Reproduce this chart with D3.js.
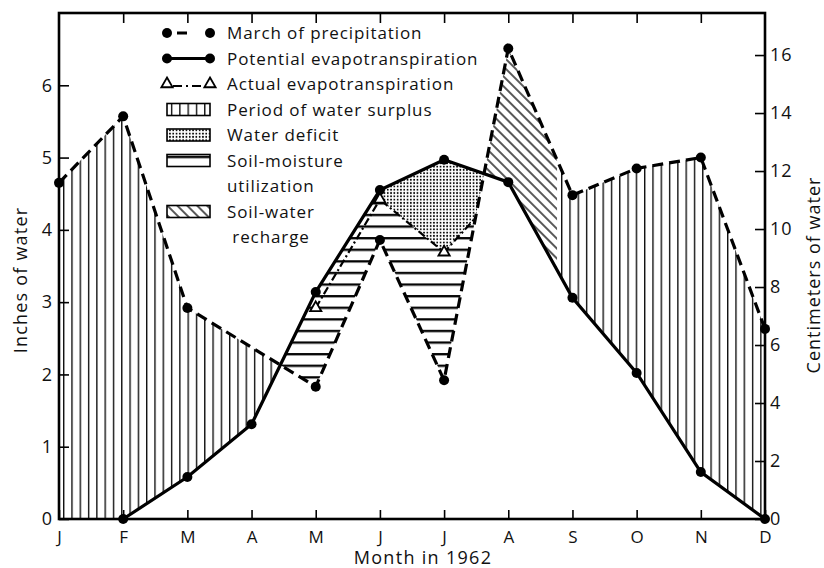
<!DOCTYPE html>
<html><head><meta charset="utf-8">
<script src="https://cdn.jsdelivr.net/npm/d3@7"></script>
<style>
body{margin:0;background:#fff}
svg{display:block}
text{font-family:"Open Sans",sans-serif;fill:#111}
</style>
</head><body>
<svg id="c" width="824" height="568"></svg>
<script>
// ---------- data ----------
const months = ["J","F","M","A","M","J","J","A","S","O","N","D"];
const precipitation = [4.65,5.57,2.92,null,1.83,3.86,1.92,6.51,4.48,4.85,5.0,2.63];
const potentialET  = [null,0,0.58,1.31,3.14,4.55,4.97,4.66,3.06,2.02,0.65,0];
const actualET     = [null,null,null,null,2.92,4.42,3.69,4.66,null,null,null,null];
const rechargeEnd = 7.76;               // month index where soil-water recharge ends
const inchTicks = [0,1,2,3,4,5,6];
const cmTicks = [0,2,4,6,8,10,12,14,16];
const legendLabels = ["March of precipitation","Potential evapotranspiration","Actual evapotranspiration",
  "Period of water surplus","Water deficit","Soil-moisture","utilization","Soil-water"," recharge"];

// ---------- setup ----------
const svg = d3.select("#c");
const defs = svg.append("defs");
const M = {l:59, r:765, t:13, b:519};
const x = d3.scaleLinear().domain([0,11]).range([M.l, M.r]);
const y = d3.scaleLinear().domain([0,7]).range([M.b, M.t]);
const yCm = d3.scaleLinear().domain([0,17.45]).range([M.b, M.t]);

// patterns
const pv = defs.append("pattern").attr("id","pv").attr("patternUnits","userSpaceOnUse")
  .attr("x",63).attr("y",0).attr("width",8.3).attr("height",10);
pv.append("line").attr("x1",0.7).attr("x2",0.7).attr("y1",0).attr("y2",10).attr("stroke","#000").attr("stroke-width",1.3);
const ph = defs.append("pattern").attr("id","ph").attr("patternUnits","userSpaceOnUse")
  .attr("x",0).attr("y",5).attr("width",10).attr("height",11.6);
ph.append("line").attr("x1",0).attr("x2",10).attr("y1",1.2).attr("y2",1.2).attr("stroke","#000").attr("stroke-width",2.3);
const pd = defs.append("pattern").attr("id","pd").attr("patternUnits","userSpaceOnUse")
  .attr("width",7).attr("height",7).attr("patternTransform","rotate(-45)");
pd.append("line").attr("x1",1).attr("x2",1).attr("y1",0).attr("y2",7).attr("stroke","#000").attr("stroke-width",1.3);
const pdot = defs.append("pattern").attr("id","pdot").attr("patternUnits","userSpaceOnUse")
  .attr("width",3.3).attr("height",3.3);
pdot.append("circle").attr("cx",1.65).attr("cy",1.65).attr("r",0.95).attr("fill","#000");

// ---------- helpers (data space) ----------
const pts = s => s.map((v,i)=> v==null?null:[i,v]).filter(Boolean);
const P = pts(precipitation), PE = pts(potentialET), AE = pts(actualET);
function at(p, t){
  if (t <= p[0][0]) return t < p[0][0] ? 0 : p[0][1];
  for (let i=1;i<p.length;i++){
    if (t <= p[i][0]){
      const a=p[i-1], b=p[i]; return a[1] + (b[1]-a[1])*(t-a[0])/(b[0]-a[0]);
    }
  }
  return p[p.length-1][1];
}
function seg(p, t0, t1){
  const out=[[t0, at(p,t0)]];
  p.forEach(d=>{ if (d[0]>t0 && d[0]<t1) out.push(d); });
  out.push([t1, at(p,t1)]);
  return out;
}
function cross(a, b, lo, hi){
  const xs = Array.from(new Set([lo,hi,...a.map(d=>d[0]),...b.map(d=>d[0])])).filter(t=>t>=lo&&t<=hi).sort((u,v)=>u-v);
  for (let i=1;i<xs.length;i++){
    const f0 = at(a,xs[i-1])-at(b,xs[i-1]), f1 = at(a,xs[i])-at(b,xs[i]);
    if (f0===0) return xs[i-1];
    if (f0*f1<0) return xs[i-1] + (xs[i]-xs[i-1])*f0/(f0-f1);
  }
  return hi;
}
const c1 = cross(P, PE, 2, 4.5);   // precip falls below PE (spring)
const c2 = cross(AE, P, 6, 7);     // actual ET rejoins precipitation
const c3 = cross(P, PE, 6, 7);     // precip rises above PE (summer)

const line = d3.line().x(d=>x(d[0])).y(d=>y(d[1]));
const poly = (pp, fill) => svg.append("path").attr("d", line(pp)+"Z").attr("fill", fill).attr("stroke","none");

// regions
poly([...seg(P,0,c1), ...seg(PE,0,c1).reverse()], "url(#pv)");
poly([...seg(P,rechargeEnd,11), ...seg(PE,rechargeEnd,11).reverse()], "url(#pv)");
poly([...seg(P,c3,rechargeEnd), ...seg(PE,c3,rechargeEnd).reverse()], "url(#pd)");
poly([...seg(PE,5,c3), [c2, at(P,c2)], ...seg(AE,5,6).reverse()], "url(#pdot)");
poly([...seg(PE,c1,5), ...seg(AE,5,c2), ...seg(P,c1,c2).reverse()], "url(#ph)");

// lines
svg.append("path").attr("d", line(seg(AE,4,c2))).attr("fill","none").attr("stroke","#000")
  .attr("stroke-width",2.2).attr("stroke-dasharray","8,3,2,3");
svg.append("path").attr("d", line(P)).attr("fill","none").attr("stroke","#000")
  .attr("stroke-width",3.2).attr("stroke-dasharray","11,6");
svg.append("path").attr("d", line(PE)).attr("fill","none").attr("stroke","#000").attr("stroke-width",3.2);

// markers
const tri = d3.symbol().type(d3.symbolTriangle).size(55);
svg.selectAll(".tri").data(AE.filter(d=>at(PE,d[0])!==d[1])).join("path")
  .attr("transform", d=>`translate(${x(d[0])},${y(d[1])})`).attr("d", tri())
  .attr("fill","#fff").attr("stroke","#000").attr("stroke-width",1.8);
svg.selectAll(".dp").data([...P, ...PE]).join("circle")
  .attr("cx", d=>x(d[0])).attr("cy", d=>y(d[1])).attr("r",5).attr("fill","#000");

// ---------- axes ----------
const ax = svg.append("g");
const styleAxis = g => { g.select(".domain").remove(); g.selectAll("line").attr("stroke","#000").attr("stroke-width",1.6); g.selectAll("text").attr("fill","#111").attr("font-family",'"Open Sans",sans-serif'); };
ax.append("g").attr("transform",`translate(${M.l},0)`)
  .call(d3.axisLeft(y).tickValues(inchTicks).tickSize(-10).tickPadding(7).tickFormat(d3.format("d")))
  .attr("font-size",18).call(styleAxis);
ax.append("g").attr("transform",`translate(${M.r},0)`)
  .call(d3.axisRight(yCm).tickValues(cmTicks).tickSize(-10).tickPadding(5).tickFormat(d3.format("d")))
  .attr("font-size",18).attr("letter-spacing",1).call(styleAxis);
ax.append("g").attr("transform",`translate(0,${M.b})`)
  .call(d3.axisBottom(x).tickValues(d3.range(months.length)).tickSize(-9).tickPadding(12).tickFormat(i=>months[i]))
  .attr("font-size",17).call(styleAxis);
ax.append("g").attr("transform",`translate(0,${M.t})`)
  .call(d3.axisTop(x).tickValues(d3.range(1,months.length-1)).tickSize(-10).tickFormat(""))
  .call(styleAxis);
// frame
svg.append("rect").attr("x",M.l).attr("y",M.t).attr("width",M.r-M.l).attr("height",M.b-M.t)
  .attr("fill","none").attr("stroke","#000").attr("stroke-width",2.6);

// axis titles
svg.append("text").attr("transform","translate(21,280) rotate(-90)").attr("text-anchor","middle")
  .attr("dy","0.35em").attr("font-size",18).attr("letter-spacing",1.2).text("Inches of water");
svg.append("text").attr("transform","translate(814,275) rotate(-90)").attr("text-anchor","middle")
  .attr("dy","0.35em").attr("font-size",18).attr("letter-spacing",1).text("Centimeters of water");
svg.append("text").attr("x",423).attr("y",564).attr("text-anchor","middle").attr("font-size",18)
  .attr("letter-spacing",1.3).text("Month in 1962");

// ---------- legend ----------
const lg = svg.append("g");
const rowY = i => 33 + i*25.5;
const sx0 = 167, sx1 = 210;
legendLabels.forEach((t,i)=>{
  lg.append("text").attr("x", 227).attr("y", rowY(i)).attr("dy","0.36em").attr("font-size",17)
    .attr("letter-spacing",0.9).attr("xml:space","preserve").text(t);
});
// line symbols
lg.append("line").attr("x1",sx0).attr("x2",sx1).attr("y1",rowY(0)).attr("y2",rowY(0)).attr("stroke","#000").attr("stroke-width",3).attr("stroke-dasharray","0,10,10,30");
lg.append("line").attr("x1",sx0).attr("x2",sx1).attr("y1",rowY(1)).attr("y2",rowY(1)).attr("stroke","#000").attr("stroke-width",3);
lg.selectAll(".ld").data([0,0,1,1]).join("circle").attr("cx",(d,i)=>i%2?sx1:sx0).attr("cy",d=>rowY(d)).attr("r",5).attr("fill","#000");
lg.append("line").attr("x1",sx0+6).attr("x2",sx1-6).attr("y1",rowY(2)+2).attr("y2",rowY(2)+2).attr("stroke","#000").attr("stroke-width",2).attr("stroke-dasharray","9,4,2,4");
lg.selectAll(".lt").data([sx0,sx1]).join("path").attr("transform",d=>`translate(${d},${rowY(2)})`).attr("d",tri())
  .attr("fill","#fff").attr("stroke","#000").attr("stroke-width",1.8);
// swatches
[["url(#pv)",3],["url(#pdot)",4],["url(#ph)",5],["url(#pd)",7]].forEach(([f,i])=>{
  lg.append("rect").attr("x",sx0).attr("y",rowY(i)-6).attr("width",sx1-sx0).attr("height",12)
    .attr("fill",f).attr("stroke","#000").attr("stroke-width",1.6);
});
</script>
</body></html>
